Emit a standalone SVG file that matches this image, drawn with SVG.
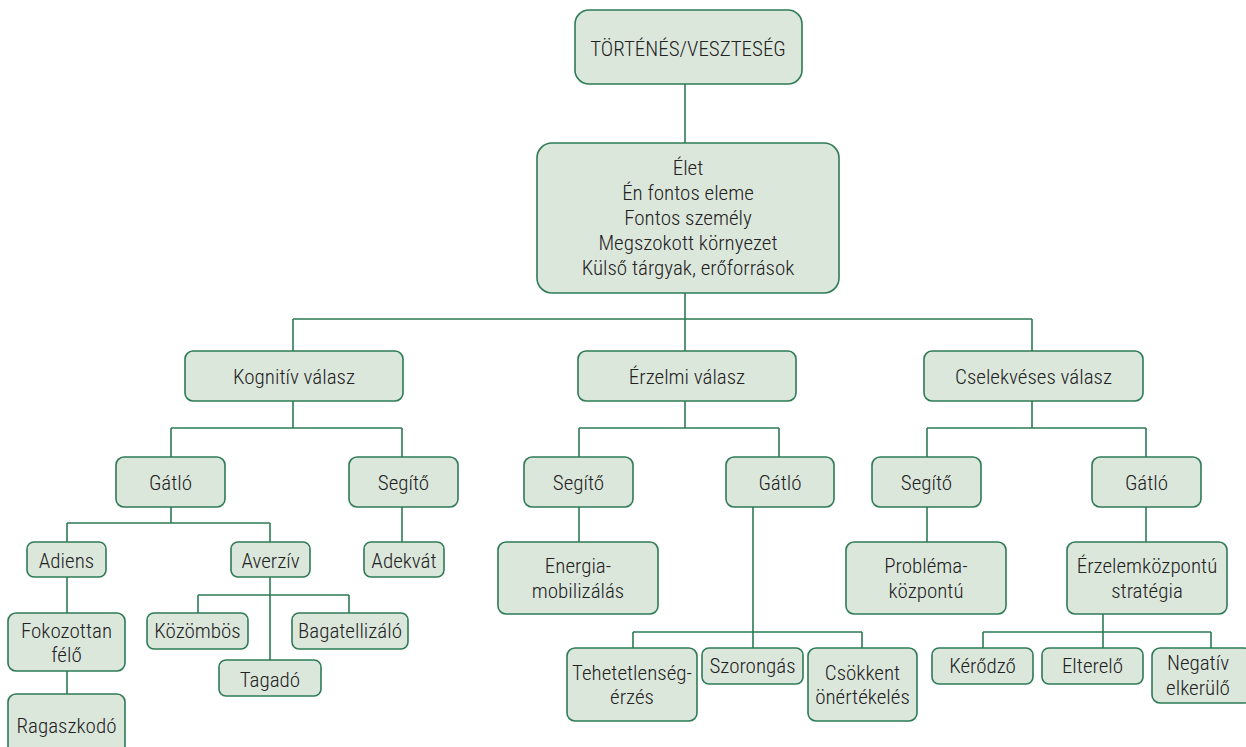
<svg xmlns="http://www.w3.org/2000/svg" width="1246" height="747" viewBox="0 0 1246 747">
<style>
.n rect{fill:#dce7dc;stroke:#2e7b56;stroke-width:1.6}
.n text{font-family:"Roboto Condensed",Roboto,"Liberation Sans",sans-serif;font-weight:300;font-size:21px;fill:#222;text-anchor:middle}
#connectors path{fill:none;stroke:#2e7b56;stroke-width:1.6}
</style>
<rect width="1246" height="747" fill="#fff"/>
<g id="connectors">
<path d="M685 84V143"/>
<path d="M685 293V319M293 319H1032M293 319V351M685 319V351M1032 319V351"/>
<path d="M293 401V428M171 428H402M171 428V457M402 428V457"/>
<path d="M685 401V428M579 428H779M579 428V457M779 428V457"/>
<path d="M1032 401V428M927 428H1146M927 428V457M1146 428V457"/>
<path d="M171 507V523M67 523H270M67 523V542M270 523V542"/>
<path d="M402 507V542"/>
<path d="M67 577V613"/>
<path d="M67 671V694"/>
<path d="M270 577V660M198 595H349M198 595V613M349 595V613"/>
<path d="M579 507V542"/>
<path d="M753 507V648M633 632H862M633 632V648M862 632V648"/>
<path d="M927 507V542"/>
<path d="M1146 507V542"/>
<path d="M1103 614V648M983 632H1211M983 632V648M1211 632V648"/>
</g>
<g id="n-top" class="n"><rect x="575" y="10" width="227" height="74" rx="14"/><text x="688" y="56">TÖRTÉNÉS/VESZTESÉG</text></g>
<g id="n-main" class="n"><rect x="537" y="143" width="302" height="150" rx="15"/><text x="688" y="175">Élet</text><text x="688" y="200">Én fontos eleme</text><text x="688" y="225">Fontos személy</text><text x="688" y="250">Megszokott környezet</text><text x="688" y="275">Külső tárgyak, erőforrások</text></g>
<g id="n-kognitiv" class="n"><rect x="185" y="351" width="218" height="50" rx="8"/><text x="294" y="384">Kognitív válasz</text></g>
<g id="n-erzelmi" class="n"><rect x="578" y="351" width="218" height="50" rx="8"/><text x="687" y="384">Érzelmi válasz</text></g>
<g id="n-cselekveses" class="n"><rect x="924" y="351" width="219" height="50" rx="8"/><text x="1033.5" y="384">Cselekvéses válasz</text></g>
<g id="n-gatlo1" class="n"><rect x="116" y="457" width="109" height="50" rx="8"/><text x="170.5" y="490">Gátló</text></g>
<g id="n-segito1" class="n"><rect x="349" y="457" width="109" height="50" rx="8"/><text x="403.5" y="490">Segítő</text></g>
<g id="n-adiens" class="n"><rect x="27" y="542" width="79" height="35" rx="7"/><text x="66.5" y="568">Adiens</text></g>
<g id="n-averziv" class="n"><rect x="231" y="542" width="79" height="35" rx="7"/><text x="270.5" y="568">Averzív</text></g>
<g id="n-adekvat" class="n"><rect x="364" y="542" width="80" height="35" rx="7"/><text x="404" y="568">Adekvát</text></g>
<g id="n-fokozottan" class="n"><rect x="8" y="613" width="117" height="58" rx="8"/><text x="66.5" y="638">Fokozottan</text><text x="66.5" y="662">félő</text></g>
<g id="n-ragaszkodo" class="n"><rect x="8" y="694" width="117" height="62" rx="8"/><text x="66.5" y="733">Ragaszkodó</text></g>
<g id="n-kozombos" class="n"><rect x="147" y="613" width="101" height="36" rx="7"/><text x="197.5" y="638">Közömbös</text></g>
<g id="n-bagatellizalo" class="n"><rect x="292" y="613" width="116" height="36" rx="7"/><text x="350" y="638">Bagatellizáló</text></g>
<g id="n-tagado" class="n"><rect x="219" y="660" width="102" height="36" rx="7"/><text x="270" y="687">Tagadó</text></g>
<g id="n-segito2" class="n"><rect x="524" y="457" width="109" height="50" rx="8"/><text x="578.5" y="490">Segítő</text></g>
<g id="n-gatlo2" class="n"><rect x="726" y="457" width="108" height="50" rx="8"/><text x="780" y="490">Gátló</text></g>
<g id="n-energia" class="n"><rect x="498" y="542" width="160" height="72" rx="8"/><text x="578" y="573">Energia-</text><text x="578" y="598">mobilizálás</text></g>
<g id="n-tehetetlenseg" class="n"><rect x="567" y="648" width="130" height="73" rx="8"/><text x="632" y="680">Tehetetlenség-</text><text x="632" y="704">érzés</text></g>
<g id="n-szorongas" class="n"><rect x="702" y="648" width="101" height="36" rx="7"/><text x="752.5" y="673">Szorongás</text></g>
<g id="n-csokkent" class="n"><rect x="808" y="648" width="109" height="73" rx="8"/><text x="862.5" y="680">Csökkent</text><text x="862.5" y="704">önértékelés</text></g>
<g id="n-segito3" class="n"><rect x="872" y="457" width="109" height="50" rx="8"/><text x="926.5" y="490">Segítő</text></g>
<g id="n-gatlo3" class="n"><rect x="1092" y="457" width="109" height="50" rx="8"/><text x="1146.5" y="490">Gátló</text></g>
<g id="n-problema" class="n"><rect x="846" y="542" width="160" height="72" rx="8"/><text x="926" y="573">Probléma-</text><text x="926" y="598">központú</text></g>
<g id="n-erzelemkozpontu" class="n"><rect x="1067" y="542" width="160" height="72" rx="8"/><text x="1147" y="573">Érzelemközpontú</text><text x="1147" y="598">stratégia</text></g>
<g id="n-kerodzo" class="n"><rect x="932" y="648" width="101" height="36" rx="7"/><text x="982.5" y="673">Kérődző</text></g>
<g id="n-elterelo" class="n"><rect x="1042" y="648" width="101" height="36" rx="7"/><text x="1092.5" y="673">Elterelő</text></g>
<g id="n-negativ" class="n"><rect x="1152" y="648" width="100" height="55" rx="8"/><text x="1198" y="670">Negatív</text><text x="1198" y="695">elkerülő</text></g>
</svg>
